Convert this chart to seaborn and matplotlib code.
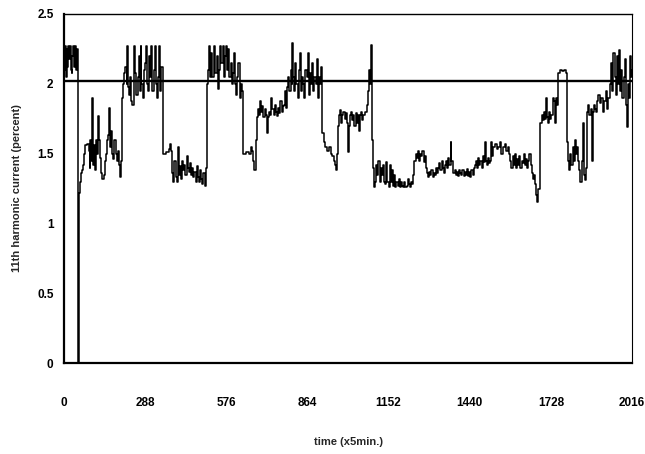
import matplotlib
matplotlib.use("Agg")
import matplotlib.pyplot as plt
import seaborn as sns
import pandas as pd

# ---- data (step breakpoints) ----
time_steps = [
    0, 1, 4, 7, 9, 12, 15, 18, 21, 24, 27, 30, 33, 36, 39, 42, 45, 48, 50, 52, 55, 58, 61, 65, 69,
    72, 76, 81, 87, 91, 94, 97, 100, 102, 105, 109, 113, 117, 120, 124, 127, 131, 135, 141, 146, 150,
    154, 157, 160, 163, 167, 171, 175, 179, 183, 187, 191, 195, 199, 203,
    207, 210, 214, 218, 222, 225, 228, 232, 236, 239, 243, 247, 250, 253, 257, 261, 265, 268, 272,
    275, 279, 283, 287, 291, 294, 298, 302, 306, 310, 314, 318, 322, 326, 330, 334, 338, 342, 346,
    350, 362, 372, 377, 381,
    384, 388, 392, 396, 400, 404, 407, 411, 415, 419, 423, 427, 431, 435, 439, 443, 447, 451, 455,
    459, 463, 467, 471, 475, 479, 483, 487, 491, 495, 499, 503,
    507, 511, 515, 519, 523, 527, 531, 535, 539, 543, 547, 551, 555, 559, 563, 567, 571, 575, 579,
    583, 587, 591, 595, 599, 603, 607, 611, 615, 619, 623, 627, 631,
    635, 645, 655, 662, 667, 672, 676,
    680, 684, 688, 692, 696, 700, 704, 708, 712, 716, 720, 724, 728, 732, 736, 740, 744, 748, 752,
    756, 760, 764, 768, 772, 776, 780, 784, 788,
    792, 796, 800, 804, 808, 810, 813, 817, 821, 825, 829, 833, 837, 841, 845, 849, 853, 857, 861,
    865, 869, 873, 877, 881, 885, 889, 893, 897, 901, 905, 909, 913,
    917, 922, 928, 935, 941, 946, 952, 957, 962, 966, 970,
    972, 976, 980, 984, 988, 992, 996, 1000, 1004, 1008, 1011, 1015, 1019, 1023, 1027, 1031, 1035,
    1039, 1043, 1047, 1051, 1055, 1059, 1063, 1067, 1071, 1075,
    1079, 1083, 1087, 1090, 1094, 1098, 1102,
    1104, 1108, 1112, 1116, 1120, 1124, 1128, 1132, 1136, 1140, 1144, 1148, 1152, 1156, 1160, 1164,
    1168, 1172, 1176, 1180, 1184, 1188, 1192, 1196, 1200, 1204, 1208, 1212, 1216, 1220, 1224, 1228,
    1232, 1236, 1240,
    1244, 1248, 1252, 1256, 1260, 1264, 1268, 1272, 1276, 1280, 1284,
    1288, 1292, 1296, 1300, 1304, 1308, 1312, 1316, 1320, 1324, 1328, 1332, 1336, 1340, 1344, 1348,
    1352, 1356, 1360, 1364, 1368, 1372, 1375, 1379,
    1382, 1386, 1390, 1394, 1398, 1402, 1406, 1410, 1414, 1418, 1422, 1426, 1430, 1434, 1438, 1442,
    1446, 1450, 1454,
    1458, 1462, 1466, 1470, 1474, 1478, 1482, 1486, 1490, 1494, 1497, 1501, 1505, 1509, 1513, 1517, 1520,
    1524, 1530, 1536, 1542, 1548, 1552, 1558, 1564, 1570, 1576, 1580,
    1584, 1588, 1592, 1596, 1600, 1604, 1608, 1612, 1616, 1620, 1624, 1628, 1632, 1636, 1640, 1644,
    1648, 1652, 1656,
    1660, 1664, 1668, 1672, 1676, 1680, 1684, 1688,
    1691, 1695, 1699, 1703, 1707, 1711, 1714, 1718, 1722, 1726, 1730,
    1734, 1738, 1742, 1746, 1750,
    1754, 1760, 1768, 1776, 1782,
    1786, 1789, 1793, 1797, 1801, 1805, 1809, 1813, 1817, 1821, 1825, 1829, 1833, 1837, 1841, 1845,
    1849, 1853,
    1857, 1861, 1865, 1869, 1873, 1876, 1880, 1884, 1888,
    1892, 1897, 1902, 1907, 1912, 1917, 1922, 1927, 1932,
    1938, 1942, 1946, 1950, 1954, 1958, 1962, 1966, 1970, 1974, 1978, 1982, 1986, 1990, 1994, 1998,
    2002, 2006, 2010, 2014, 2016,
]

current_pct = [
    0.0, 2.1, 2.27, 2.05, 2.25, 2.12, 2.27, 2.18, 2.27, 2.1, 2.08, 2.2, 2.27, 2.12, 2.27, 2.1, 2.25, 2.15, 0.0, 1.15, 1.22, 1.3, 1.36, 1.38, 1.42,
    1.5, 1.56, 1.57, 1.52, 1.4, 1.6, 1.45, 1.9, 1.42, 1.56, 1.38, 1.6, 1.5, 1.77, 1.6, 1.47, 1.36, 1.32, 1.35, 1.45, 1.5,
    1.6, 1.63, 1.83, 1.55, 1.66, 1.5, 1.46, 1.6, 1.5, 1.45, 1.52, 1.42, 1.33, 1.45,
    1.9, 2.0, 2.08, 2.12, 2.0, 2.27, 1.98, 1.92, 2.05, 1.88, 1.85, 1.98, 2.27, 2.08, 1.92, 2.05, 2.2, 1.95, 2.27,
    2.0, 1.9, 2.1, 2.15, 2.27, 2.0, 1.95, 2.2, 2.05, 2.27, 1.95, 2.1, 2.27, 2.0, 1.9, 2.05, 2.27, 1.95, 2.12,
    1.5, 1.51, 1.53, 1.57, 1.52,
    1.36, 1.3, 1.45, 1.33, 1.3, 1.55, 1.35, 1.41, 1.32, 1.45, 1.38, 1.42, 1.35, 1.48, 1.4, 1.37, 1.43, 1.35, 1.4,
    1.33, 1.37, 1.3, 1.41, 1.33, 1.3, 1.38, 1.32, 1.28, 1.36, 1.27, 1.4,
    2.0, 2.1, 2.27, 2.05, 2.22, 2.05, 2.27, 2.08, 2.08, 2.2, 1.96, 2.1, 2.27, 2.15, 2.27, 2.05, 2.2, 2.27, 2.1,
    2.25, 2.05, 2.15, 2.0, 2.08, 2.22, 2.0, 1.92, 2.05, 2.15, 1.9, 2.0, 1.95,
    1.5, 1.51, 1.5, 1.55, 1.52, 1.45, 1.38,
    1.6, 1.76, 1.82, 1.78, 1.88, 1.8, 1.84, 1.76, 1.82, 1.78, 1.65, 1.76, 1.8, 1.78, 1.9, 1.82, 1.78, 1.85, 1.8,
    1.77, 1.83, 1.79, 1.88, 1.8, 1.84, 1.85, 1.95, 1.83,
    1.98, 2.05, 1.95, 2.1, 2.0, 2.29, 2.05, 1.95, 2.15, 2.0, 1.9, 2.1, 2.22, 1.95, 2.05, 2.0, 1.9, 2.1, 2.05,
    2.22, 1.92, 2.08, 2.0, 2.15, 1.95, 2.05, 2.0, 2.18, 1.9, 2.05, 2.0, 2.12,
    1.65, 1.58, 1.55, 1.52, 1.55, 1.5, 1.48, 1.45, 1.42, 1.38, 1.5,
    1.7, 1.78, 1.81, 1.72, 1.78, 1.8, 1.75, 1.79, 1.72, 1.51, 1.7, 1.78, 1.8, 1.74, 1.78, 1.7, 1.79,
    1.72, 1.78, 1.66, 1.78, 1.8, 1.74, 1.78, 1.8, 1.8, 1.85,
    1.95, 2.1, 2.0, 2.28, 1.6, 1.4, 1.26,
    1.3, 1.42, 1.35, 1.45, 1.3, 1.4, 1.35, 1.42, 1.3, 1.28, 1.44, 1.3, 1.26, 1.42, 1.3, 1.38,
    1.27, 1.35, 1.26, 1.3, 1.27, 1.32, 1.26, 1.3, 1.27, 1.26, 1.3, 1.26, 1.27, 1.32, 1.28, 1.26,
    1.3, 1.28, 1.35,
    1.45, 1.5, 1.47, 1.52, 1.45, 1.5, 1.48, 1.52, 1.44, 1.48, 1.4,
    1.36, 1.33, 1.37, 1.35, 1.38, 1.33, 1.36, 1.35, 1.4, 1.36, 1.4, 1.43, 1.38, 1.45, 1.4, 1.36,
    1.42, 1.45, 1.4, 1.47, 1.42, 1.58, 1.45, 1.4,
    1.36, 1.38, 1.35, 1.37, 1.34, 1.38, 1.36, 1.35, 1.38, 1.34, 1.37, 1.35, 1.39, 1.34, 1.37, 1.33,
    1.38, 1.35, 1.4,
    1.42, 1.45, 1.4, 1.47, 1.42, 1.45, 1.4, 1.48, 1.44, 1.58, 1.45, 1.42, 1.47, 1.43, 1.45, 1.58, 1.48,
    1.55, 1.57, 1.53, 1.55, 1.58, 1.5, 1.55, 1.57, 1.52, 1.55, 1.5,
    1.45, 1.4, 1.48, 1.42, 1.5, 1.4, 1.46, 1.42, 1.48, 1.4, 1.45, 1.43, 1.5, 1.42, 1.46, 1.4,
    1.45, 1.5, 1.42,
    1.36, 1.32, 1.35, 1.28, 1.2, 1.15, 1.25, 1.4,
    1.72, 1.78, 1.74, 1.8, 1.75, 1.9, 1.76, 1.72, 1.8, 1.75, 1.78,
    1.9, 1.88, 1.72, 1.9, 1.85,
    2.08, 2.1, 2.09, 2.1, 2.08,
    1.58, 1.45, 1.38, 1.5, 1.42, 1.55, 1.45, 1.6, 1.5, 1.55, 1.45, 1.38, 1.3, 1.45, 1.72, 1.35,
    1.31, 1.4,
    1.8, 1.85, 1.78, 1.82, 1.45, 1.8, 1.85, 1.82, 1.8,
    1.88, 1.92, 1.86, 1.9, 1.8, 1.88, 1.95, 1.82, 1.9,
    2.0, 2.15, 1.95, 2.22, 2.05, 1.92, 2.2, 2.0, 2.24, 1.95, 2.1, 1.9, 2.05, 2.18, 1.85, 1.69,
    2.0, 1.9, 2.2, 2.05, 2.1,
]

limit_pct = 2.02
x_ticks = [0, 288, 576, 864, 1152, 1440, 1728, 2016]
y_ticks = [0, 0.5, 1, 1.5, 2, 2.5]
y_tick_labels = ["0", "0.5", "1", "1.5", "2", "2.5"]
x_label = "time (x5min.)"
y_label = "11th harmonic current (percent)"

df = pd.DataFrame({"t": time_steps, "v": current_pct})

sns.set_theme(style="white")
plt.rcParams["font.family"] = ["Liberation Sans", "DejaVu Sans"]

fig = plt.figure(figsize=(6.45, 4.54), dpi=100)
ax = fig.add_axes([64 / 645, 1 - 363 / 454, (632 - 64) / 645, (363 - 14) / 454])

sns.lineplot(data=df, x="t", y="v", ax=ax, color="black", linewidth=1.1,
             drawstyle="steps-post", estimator=None, sort=False)
ax.axhline(limit_pct, color="black", linewidth=1.7)

ax.set_xlim(0, 2016)
ax.set_ylim(0, 2.5)
ax.set_xticks(x_ticks)
ax.set_xticklabels([str(v) for v in x_ticks])
ax.set_yticks(y_ticks)
ax.set_yticklabels(y_tick_labels)

for lbl in ax.get_xticklabels() + ax.get_yticklabels():
    lbl.set_fontweight("bold")
    lbl.set_fontsize(8.5)

ax.tick_params(axis="x", direction="inout", length=7, width=1.0, pad=21, colors="black")
ax.tick_params(axis="y", direction="inout", length=5, width=1.0, pad=5, colors="black")

ax.set_xlabel(x_label, fontsize=8, fontweight="bold", labelpad=20)
ax.set_ylabel(y_label, fontsize=8, fontweight="bold", labelpad=11)

for side, sp in ax.spines.items():
    sp.set_visible(True)
    sp.set_color("black")
ax.spines["left"].set_linewidth(1.6)
ax.spines["bottom"].set_linewidth(1.6)
ax.spines["top"].set_linewidth(1.0)
ax.spines["right"].set_linewidth(0.8)

fig.savefig("out.png", dpi=100, facecolor="white")
